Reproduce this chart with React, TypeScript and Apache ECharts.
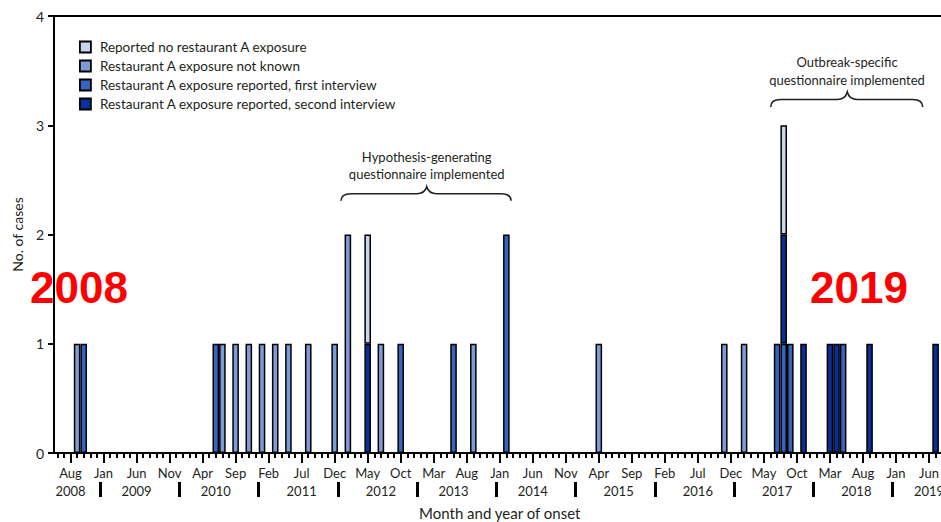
import React, { useEffect, useRef } from 'react';
import * as echarts from 'echarts';

// ---------- data ----------
const MONTH_ABBR = ['Jan', 'Feb', 'Mar', 'Apr', 'May', 'Jun', 'Jul', 'Aug', 'Sep', 'Oct', 'Nov', 'Dec'];
const AXIS_START = { year: 2008, month: 6 };
const AXIS_END = { year: 2019, month: 8 };

const SERIES_NAMES = {
  noExposure: 'Reported no restaurant A exposure',
  notKnown: 'Restaurant A exposure not known',
  first: 'Restaurant A exposure reported, first interview',
  second: 'Restaurant A exposure reported, second interview',
};

const firstInterview: [string, number][] = [
  ['2008-10', 1], ['2010-06', 1], ['2012-10', 1], ['2013-06', 1], ['2014-02', 2],
  ['2017-07', 1], ['2017-08', 1], ['2017-09', 1], ['2018-05', 1],
];
const secondInterview: [string, number][] = [
  ['2012-05', 1], ['2017-08', 1], ['2017-11', 1], ['2018-03', 1], ['2018-04', 1],
  ['2018-09', 1], ['2019-07', 1],
];
const notKnown: [string, number][] = [
  ['2008-09', 1], ['2010-07', 1], ['2010-09', 1], ['2010-11', 1], ['2011-01', 1],
  ['2011-03', 1], ['2011-05', 1], ['2011-08', 1], ['2011-12', 1], ['2012-02', 2],
  ['2012-07', 1], ['2013-09', 1], ['2015-04', 1], ['2016-11', 1], ['2017-02', 1],
];
const noExposure: [string, number][] = [
  ['2012-05', 1], ['2017-08', 1],
];

const labeledMonths = [
  '2008-08', '2009-01', '2009-06', '2009-11', '2010-04', '2010-09', '2011-02', '2011-07',
  '2011-12', '2012-05', '2012-10', '2013-03', '2013-08', '2014-01', '2014-06', '2014-11',
  '2015-04', '2015-09', '2016-02', '2016-07', '2016-12', '2017-05', '2017-10', '2018-03',
  '2018-08', '2019-01', '2019-06',
];
const yearLabels: [string, string][] = [
  ['2008', '2008-08'], ['2009', '2009-06'], ['2010', '2010-06'], ['2011', '2011-07'],
  ['2012', '2012-07'], ['2013', '2013-06'], ['2014', '2014-06'], ['2015', '2015-07'],
  ['2016', '2016-07'], ['2017', '2017-07'], ['2018', '2018-07'], ['2019', '2019-06'],
];
const yTicks = [0, 1, 2, 3, 4];

// ---------- styles ----------
const COLORS = {
  noExposure: '#C9D5EF',
  notKnown: '#7D9BD8',
  first: '#3565C0',
  second: '#0A2F9B',
};
const INK = '#231F20';
const FONT = 'Lato';

const categories: string[] = [];
{
  let y = AXIS_START.year;
  let m = AXIS_START.month;
  while (y < AXIS_END.year || (y === AXIS_END.year && m <= AXIS_END.month)) {
    categories.push(`${y}-${String(m).padStart(2, '0')}`);
    m += 1;
    if (m > 12) { m = 1; y += 1; }
  }
}

const toSeriesData = (list: [string, number][]) => {
  const map = new Map(list);
  return categories.map((c) => (map.has(c) ? map.get(c)! : null));
};

const labeledSet = new Set(labeledMonths);
const yearMap = new Map(yearLabels.map(([yr, at]) => [at, yr]));

function bracePath(w: number, c: number, r: number, h: number) {
  const mid = h / 2;
  return `M0 ${h} Q0 ${mid} ${r} ${mid} L${c - r} ${mid} Q${c - 2} ${mid} ${c} 0 Q${c + 2} ${mid} ${c + r} ${mid} L${w - r} ${mid} Q${w} ${mid} ${w} ${h}`;
}

let registered = false;
function registerBraces() {
  if (registered) return;
  registered = true;
  echarts.graphic.registerShape('braceHypo', echarts.graphic.extendPath(bracePath(170, 85.7, 10, 14), {}));
  echarts.graphic.registerShape('braceOutb', echarts.graphic.extendPath(bracePath(152, 76.6, 10, 15), {}));
}

export default function App() {
  const ref = useRef<HTMLDivElement>(null);
  useEffect(() => {
    if (!ref.current) return;
    registerBraces();
    const chart = echarts.init(ref.current, undefined, { renderer: 'svg' });
    const barBase = {
      type: 'bar' as const,
      stack: 'cases',
      barCategoryGap: '0%',
      xAxisIndex: 0,
      yAxisIndex: 0,
    };
    const border = { borderColor: '#000', borderWidth: 1.5 };
    const monthAbbr = (v: string) => MONTH_ABBR[parseInt(v.slice(5), 10) - 1];
    chart.setOption({
      animation: false,
      backgroundColor: '#fff',
      textStyle: { fontFamily: FONT, color: INK },
      grid: {
        left: 54, top: 16, right: 14.5, bottom: 69,
        containLabel: false,
        outerBoundsMode: 'none',
        show: true, borderColor: '#000', borderWidth: 2,
      },
      legend: {
        orient: 'vertical',
        left: 74, top: 34,
        itemWidth: 11, itemHeight: 11,
        itemGap: 3,
        icon: 'rect',
        data: [SERIES_NAMES.noExposure, SERIES_NAMES.notKnown, SERIES_NAMES.first, SERIES_NAMES.second],
        itemStyle: { borderColor: '#000', borderWidth: 1.8 },
        textStyle: { fontFamily: FONT, fontSize: 13.5, color: INK, lineHeight: 16, padding: [0, 0, 0, 4] },
      },
      xAxis: [
        {
          type: 'category', data: categories, boundaryGap: true,
          axisLine: { show: true, lineStyle: { color: '#000', width: 2 } },
          axisTick: { show: true, alignWithLabel: true, interval: 0, length: 5, lineStyle: { color: '#000', width: 2 } },
          axisLabel: {
            interval: (i: number) => labeledSet.has(categories[i]),
            formatter: (v: string) => monthAbbr(v),
            margin: 13, fontSize: 13, color: INK, fontFamily: FONT,
          },
          name: 'Month and year of onset', nameLocation: 'middle', nameGap: 52,
          nameTextStyle: { fontSize: 15, color: INK, fontFamily: FONT },
        },
        {
          type: 'category', data: categories, boundaryGap: true, position: 'bottom', offset: 0,
          axisLine: { show: false },
          axisTick: { show: true, alignWithLabel: true, interval: (i: number) => labeledSet.has(categories[i]), length: 10, lineStyle: { color: '#000', width: 2 } },
          axisLabel: { show: false },
        },
        {
          type: 'category', data: categories, boundaryGap: true, position: 'bottom', offset: 29,
          axisLine: { show: false },
          axisTick: { show: true, alignWithLabel: false, interval: (i: number) => categories[i].endsWith('-01'), length: 15, lineStyle: { color: '#000', width: 3 } },
          axisLabel: {
            interval: (i: number) => yearMap.has(categories[i]),
            formatter: (v: string) => yearMap.get(v) || '',
            margin: 2.5, fontSize: 13, color: INK, fontFamily: FONT,
          },
        },
      ],
      yAxis: {
        type: 'value', min: yTicks[0], max: yTicks[yTicks.length - 1], interval: 1,
        axisLine: { show: true, lineStyle: { color: '#000', width: 2 } },
        axisTick: { show: true, length: 6, lineStyle: { color: '#000', width: 2 } },
        splitLine: { show: false },
        axisLabel: { fontSize: 14, color: INK, margin: 10, fontFamily: FONT },
        name: 'No. of cases', nameLocation: 'middle', nameGap: 22,
        nameTextStyle: { fontSize: 14, color: INK, fontFamily: FONT },
      },
      series: [
        { ...barBase, name: SERIES_NAMES.first, data: toSeriesData(firstInterview), itemStyle: { color: COLORS.first, ...border } },
        { ...barBase, name: SERIES_NAMES.second, data: toSeriesData(secondInterview), itemStyle: { color: COLORS.second, ...border } },
        { ...barBase, name: SERIES_NAMES.notKnown, data: toSeriesData(notKnown), itemStyle: { color: COLORS.notKnown, ...border } },
        { ...barBase, name: SERIES_NAMES.noExposure, data: toSeriesData(noExposure), itemStyle: { color: COLORS.noExposure, ...border } },
      ],
      graphic: [
        {
          type: 'text', x: 426.7, y: 165.5,
          style: { text: 'Hypothesis-generating\nquestionnaire implemented', fill: INK, font: `13px ${FONT}`, lineHeight: 17.5, align: 'center', verticalAlign: 'middle' },
        },
        { type: 'braceHypo', x: 341, y: 186.7, style: { stroke: INK, lineWidth: 1.6, fill: 'none' } },
        {
          type: 'text', x: 847, y: 71,
          style: { text: 'Outbreak-specific\nquestionnaire implemented', fill: INK, font: `13px ${FONT}`, lineHeight: 17.5, align: 'center', verticalAlign: 'middle' },
        },
        { type: 'braceOutb', x: 770.7, y: 92, style: { stroke: INK, lineWidth: 1.6, fill: 'none' } },
        {
          type: 'text', x: 30, y: 287,
          style: { text: '2008', fill: '#FF0000', font: 'bold 44px "Liberation Sans"', align: 'left', verticalAlign: 'middle' },
        },
        {
          type: 'text', x: 810, y: 287,
          style: { text: '2019', fill: '#FF0000', font: 'bold 44px "Liberation Sans"', align: 'left', verticalAlign: 'middle' },
        },
      ],
    });
    return () => chart.dispose();
  }, []);
  return (
    <div style={{ position: 'fixed', left: 0, top: 0, width: 941, height: 522, overflow: 'hidden', background: '#fff' }}>
      <div ref={ref} style={{ width: 960, height: 522 }} />
    </div>
  );
}
